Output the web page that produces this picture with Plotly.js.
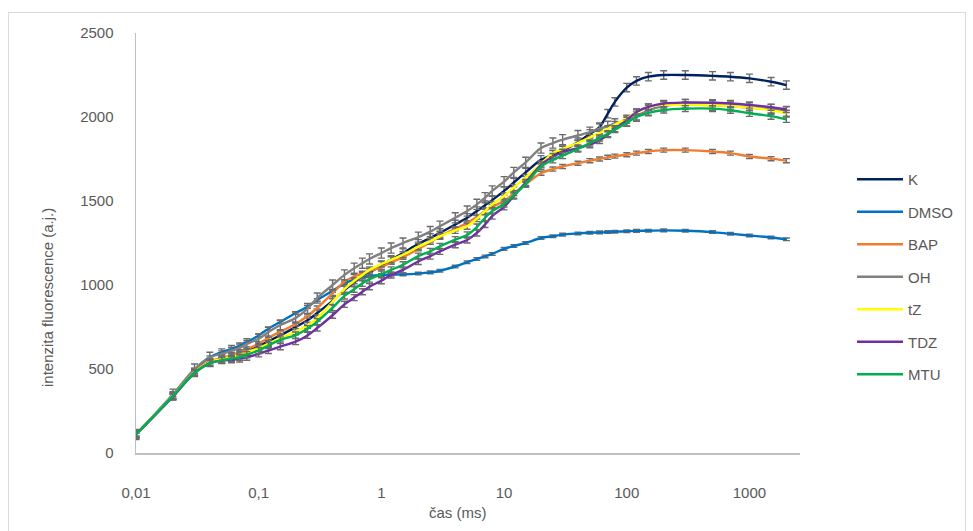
<!DOCTYPE html>
<html>
<head>
<meta charset="utf-8">
<script src="https://cdn.plot.ly/plotly-3.0.1.min.js"></script>
<style>
  html, body { margin: 0; padding: 0; background: #ffffff; }
  #wrap { position: relative; width: 973px; height: 531px; overflow: hidden; }
  #frame { position: absolute; left: 8px; top: 12px; width: 958px; height: 530px; border: 1.5px solid #d9d9d9; box-sizing: border-box; }
  #plot { position: absolute; left: 0; top: 0; width: 973px; height: 531px; }
</style>
</head>
<body>
<div id="wrap">
  <div id="frame"></div>
  <div id="plot"></div>
</div>
<script>
// time (ms)
const timeMs = [0.01,0.02,0.03,0.04,0.05,0.06,0.07,0.08,0.1,0.12,0.15,0.2,0.25,0.3,0.4,0.5,0.6,0.7,0.8,1,1.2,1.5,2,2.5,3,4,5,6,7,8,10,12,15,20,25,30,40,50,60,70,80,100,120,150,200,300,500,700,1000,1500,2000];

const seriesNames = ["K","DMSO","BAP","OH","tZ","TDZ","MTU"];
const seriesColors = ["#002060","#0070C0","#ED7D31","#808080","#FFFF00","#7030A0","#00B050"];

const valK    = [110,340,480,540,560,575,590,605,635,665,700,750,790,833,905,970,1015,1050,1075,1115,1150,1190,1245,1280,1310,1360,1400,1440,1475,1505,1560,1610,1670,1745,1775,1800,1850,1900,1940,2020,2090,2175,2215,2240,2250,2250,2245,2240,2230,2210,2190];
const valDMSO = [110,345,495,570,600,620,640,660,700,740,780,833,870,911,965,1010,1032,1045,1053,1060,1062,1063,1068,1075,1085,1110,1135,1155,1170,1185,1215,1232,1250,1280,1290,1300,1307,1311,1313,1315,1317,1320,1322,1323,1325,1323,1315,1305,1295,1283,1272];
const valBAP  = [110,340,485,545,565,582,600,618,650,685,722,768,815,863,950,1020,1050,1070,1085,1105,1135,1165,1215,1255,1290,1335,1370,1405,1440,1465,1500,1545,1600,1665,1690,1705,1725,1740,1750,1760,1767,1775,1785,1795,1803,1803,1795,1785,1765,1752,1740];
const valOH   = [110,350,500,570,590,610,625,650,680,720,762,804,860,922,1000,1060,1100,1130,1155,1190,1220,1250,1285,1318,1350,1400,1440,1480,1520,1560,1615,1670,1730,1815,1845,1865,1890,1910,1930,1945,1960,1975,2005,2040,2065,2075,2070,2065,2055,2045,2030];
const valTZ   = [110,340,480,540,560,572,585,600,625,650,684,722,760,803,900,975,1025,1060,1090,1125,1150,1180,1228,1260,1290,1325,1350,1395,1440,1480,1530,1580,1640,1720,1785,1810,1845,1878,1905,1930,1955,1992,2030,2060,2072,2072,2070,2065,2055,2040,2022];
const valTDZ  = [110,335,475,535,550,555,560,570,590,610,633,663,700,744,820,885,925,960,990,1025,1060,1090,1140,1172,1200,1240,1268,1310,1360,1410,1465,1530,1610,1715,1765,1790,1815,1835,1860,1895,1930,1980,2030,2060,2080,2086,2085,2080,2071,2058,2045];
const valMTU  = [110,340,478,535,552,562,570,585,610,640,673,702,740,782,865,935,975,1010,1035,1065,1090,1120,1172,1200,1230,1270,1298,1345,1400,1440,1482,1535,1600,1705,1745,1770,1810,1845,1875,1900,1925,1965,2000,2025,2042,2050,2050,2040,2022,2005,1986];

// error bar half-heights per series (a.j.)
const errK = 25, errDMSO = 8, errBAP = 12, errOH = 30, errTZ = 18, errTDZ = 18, errMTU = 18;

const seriesValues = [valK, valDMSO, valBAP, valOH, valTZ, valTDZ, valMTU];
const seriesErrors = [errK, errDMSO, errBAP, errOH, errTZ, errTDZ, errMTU];

const xTickVals = [0.01,0.1,1,10,100,1000];
const xTickText = ["0,01","0,1","1","10","100","1000"];
const yTickVals = [0,500,1000,1500,2000,2500];

const traces = seriesNames.map((name, i) => ({
  type: "scatter",
  mode: "lines",
  name: name,
  legendgroup: name,
  x: timeMs,
  y: seriesValues[i],
  line: { color: seriesColors[i], width: 2.4, shape: "spline", smoothing: 1 },
  error_y: { type: "constant", value: seriesErrors[i], color: "#6b6b6b", thickness: 1.4, width: 3.5 },
  hoverinfo: "x+y+name"
}));

const fontFam = "Liberation Sans, Arial, sans-serif";
const L = 136, R = 800, T = 33, B = 453;
const pw = R - L, ph = B - T;

const layout = {
  width: 973, height: 531,
  margin: { l: L, r: 973 - R, t: T, b: 531 - B, pad: 0 },
  paper_bgcolor: "rgba(0,0,0,0)",
  plot_bgcolor: "rgba(0,0,0,0)",
  font: { family: fontFam, size: 15, color: "#595959" },
  showlegend: true,
  legend: {
    x: (852 - L) / pw, xanchor: "left",
    y: (B - 163) / ph, yanchor: "top",
    font: { family: fontFam, size: 15, color: "#595959" },
    traceorder: "grouped",
    tracegroupgap: 10,
    itemwidth: 46,
    bgcolor: "rgba(0,0,0,0)"
  },
  xaxis: {
    type: "log",
    range: [-2, 3.412],
    showgrid: false, zeroline: false,
    showline: true, linecolor: "#bfbfbf", linewidth: 1.5,
    ticks: "",
    tickvals: xTickVals, ticktext: xTickText,
    ticklabelstandoff: 25,
    tickfont: { family: fontFam, size: 15, color: "#595959" }
  },
  yaxis: {
    range: [0, 2500],
    showgrid: false, zeroline: false,
    showline: true, linecolor: "#bfbfbf", linewidth: 1.5,
    ticks: "",
    tickvals: yTickVals,
    ticklabelstandoff: 18,
    tickfont: { family: fontFam, size: 15, color: "#595959" }
  },
  annotations: [
    {
      text: "intenzita fluorescence (a.j.)",
      xref: "paper", yref: "paper",
      x: (47 - L) / pw, y: (B - 298) / ph,
      xanchor: "center", yanchor: "middle",
      textangle: -90, showarrow: false,
      font: { family: fontFam, size: 15, color: "#595959" }
    },
    {
      text: "čas (ms)",
      xref: "paper", yref: "paper",
      x: (458 - L) / pw, y: (B - 512) / ph,
      xanchor: "center", yanchor: "middle",
      showarrow: false,
      font: { family: fontFam, size: 15, color: "#595959" }
    }
  ]
};

Plotly.newPlot("plot", traces, layout, { displayModeBar: false, staticPlot: true });
</script>
</body>
</html>
